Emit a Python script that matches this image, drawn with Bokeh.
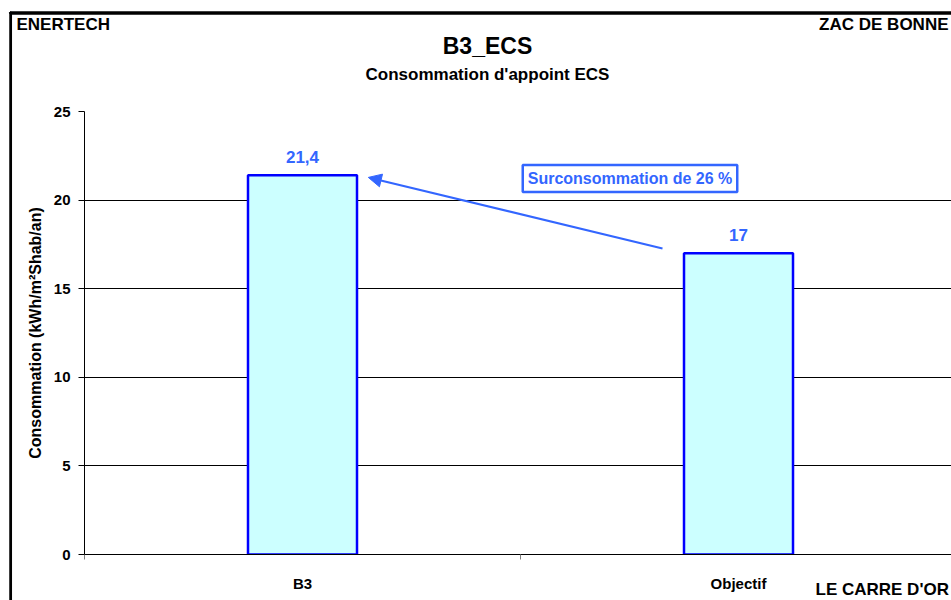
from bokeh.plotting import figure
from bokeh.models import (Range1d, FixedTicker, Label, Arrow, NormalHead, ColumnDataSource)
from bokeh.embed import file_html
from bokeh.resources import INLINE

# ---- data ----
categories = ["B3", "Objectif"]
values = [21.4, 17.0]
value_labels = ["21,4", "17"]
y_ticks = [0, 5, 10, 15, 20, 25]
title_text = "B3_ECS"
subtitle_text = "Consommation d'appoint ECS"
y_label = "Consommation (kWh/m\u00b2Shab/an)"
annotation_text = "Surconsommation de 26 %"
corner_left = "ENERTECH"
corner_right = "ZAC DE BONNE"
corner_bottom = "LE CARRE D'OR"

FONT = "Liberation Sans"
BLUE_TXT = "#3366FF"
BAR_LINE = "#0000FF"
BAR_FILL = "#CCFFFF"

W, H = 951, 600
x_pos = [i + 0.5 for i in range(len(categories))]

p = figure(width=W, height=H, output_backend="svg", toolbar_location=None,
           x_range=Range1d(0, 1.9885), y_range=Range1d(0, 25),
           min_border_left=84, min_border_right=0, min_border_top=111,
           min_border_bottom=46)
p.background_fill_color = "white"
p.border_fill_color = "white"
p.outline_line_color = None

src = ColumnDataSource(dict(x=x_pos, top=values, lab=value_labels))
p.vbar(x="x", top="top", width=0.25, source=src, fill_color=BAR_FILL,
       line_color=BAR_LINE, line_width=2.5)

for xv, v, t in zip(x_pos, values, value_labels):
    p.add_layout(Label(x=xv, y=v, text=t, text_align="center",
                       text_baseline="middle", y_offset=18,
                       text_font=FONT, text_font_style="bold",
                       text_font_size="17px", text_color=BLUE_TXT))

p.xgrid.visible = False
p.ygrid.ticker = FixedTicker(ticks=y_ticks)
p.ygrid.grid_line_color = "black"
p.ygrid.grid_line_width = 1

yax = p.yaxis[0]
yax.ticker = FixedTicker(ticks=y_ticks)
yax.axis_line_color = "black"
yax.major_tick_line_color = "black"
yax.major_tick_out = 6
yax.major_tick_in = 0
yax.minor_tick_line_color = None
yax.major_label_text_font = FONT
yax.major_label_text_font_style = "bold"
yax.major_label_text_font_size = "15px"
yax.major_label_text_color = "black"
yax.major_label_standoff = 8
yax.axis_label = y_label
yax.axis_label_text_font = FONT
yax.axis_label_text_font_style = "bold"
yax.axis_label_text_font_size = "16px"
yax.axis_label_text_color = "black"
yax.axis_label_standoff = 7

xax = p.xaxis[0]
xax.ticker = FixedTicker(ticks=x_pos, minor_ticks=[0, 1, 2])
xax.major_label_overrides = {xv: c for xv, c in zip(x_pos, categories)}
xax.axis_line_color = "black"
xax.major_tick_line_color = None
xax.major_tick_out = 0
xax.major_tick_in = 0
xax.minor_tick_line_color = "#808080"
xax.minor_tick_out = 5
xax.minor_tick_in = 0
xax.major_label_text_font = FONT
xax.major_label_text_font_style = "bold"
xax.major_label_text_font_size = "15px"
xax.major_label_text_color = "black"
xax.major_label_standoff = 15

p.add_layout(Arrow(end=NormalHead(size=13, fill_color=BLUE_TXT, line_color=BLUE_TXT),
                   x_start=1.3257, y_start=17.27, x_end=0.651, y_end=21.28,
                   line_color=BLUE_TXT, line_width=2))
p.add_layout(Label(x=1.2511, y=21.22, text=annotation_text, text_align="center",
                   text_baseline="middle", text_font=FONT, text_font_style="bold",
                   text_font_size="16px", text_color=BLUE_TXT,
                   border_line_color=BLUE_TXT, border_line_width=2.5,
                   background_fill_color="white", padding=5))

# outer chart frame: thin label boxes in side panels (not clipped to the plot area)
p.add_layout(Label(x=10, y=12, x_units="canvas", y_units="canvas", text=" ",
                   text_align="left", text_baseline="top", text_font_size="1px",
                   padding=dict(left=0, top=0, right=2000, bottom=0),
                   border_line_color="black", border_line_width=2.5,
                   background_fill_color=None), "above")
p.add_layout(Label(x=10, y=12, x_units="canvas", y_units="canvas", text=" ",
                   text_align="left", text_baseline="top", text_font_size="1px",
                   padding=dict(left=0, top=0, right=0, bottom=2000),
                   border_line_color="black", border_line_width=2.5,
                   background_fill_color=None), "left")

def clabel(x, y, t, size, align="left", side="above"):
    p.add_layout(Label(x=x, y=y, x_units="canvas", y_units="canvas", text=t,
                       text_align=align, text_baseline="middle",
                       text_font=FONT, text_font_style="bold",
                       text_font_size=size, text_color="black",
                       text_line_height=1.0), side)

clabel(16, 24, corner_left, "17px")
clabel(948, 24, corner_right, "17px", "right")
clabel(487, 45, title_text, "23px", "center")
clabel(487, 74, subtitle_text, "17px", "center")
clabel(815, 589, corner_bottom, "17px")

open("out.html", "w").write(file_html(p, INLINE))
